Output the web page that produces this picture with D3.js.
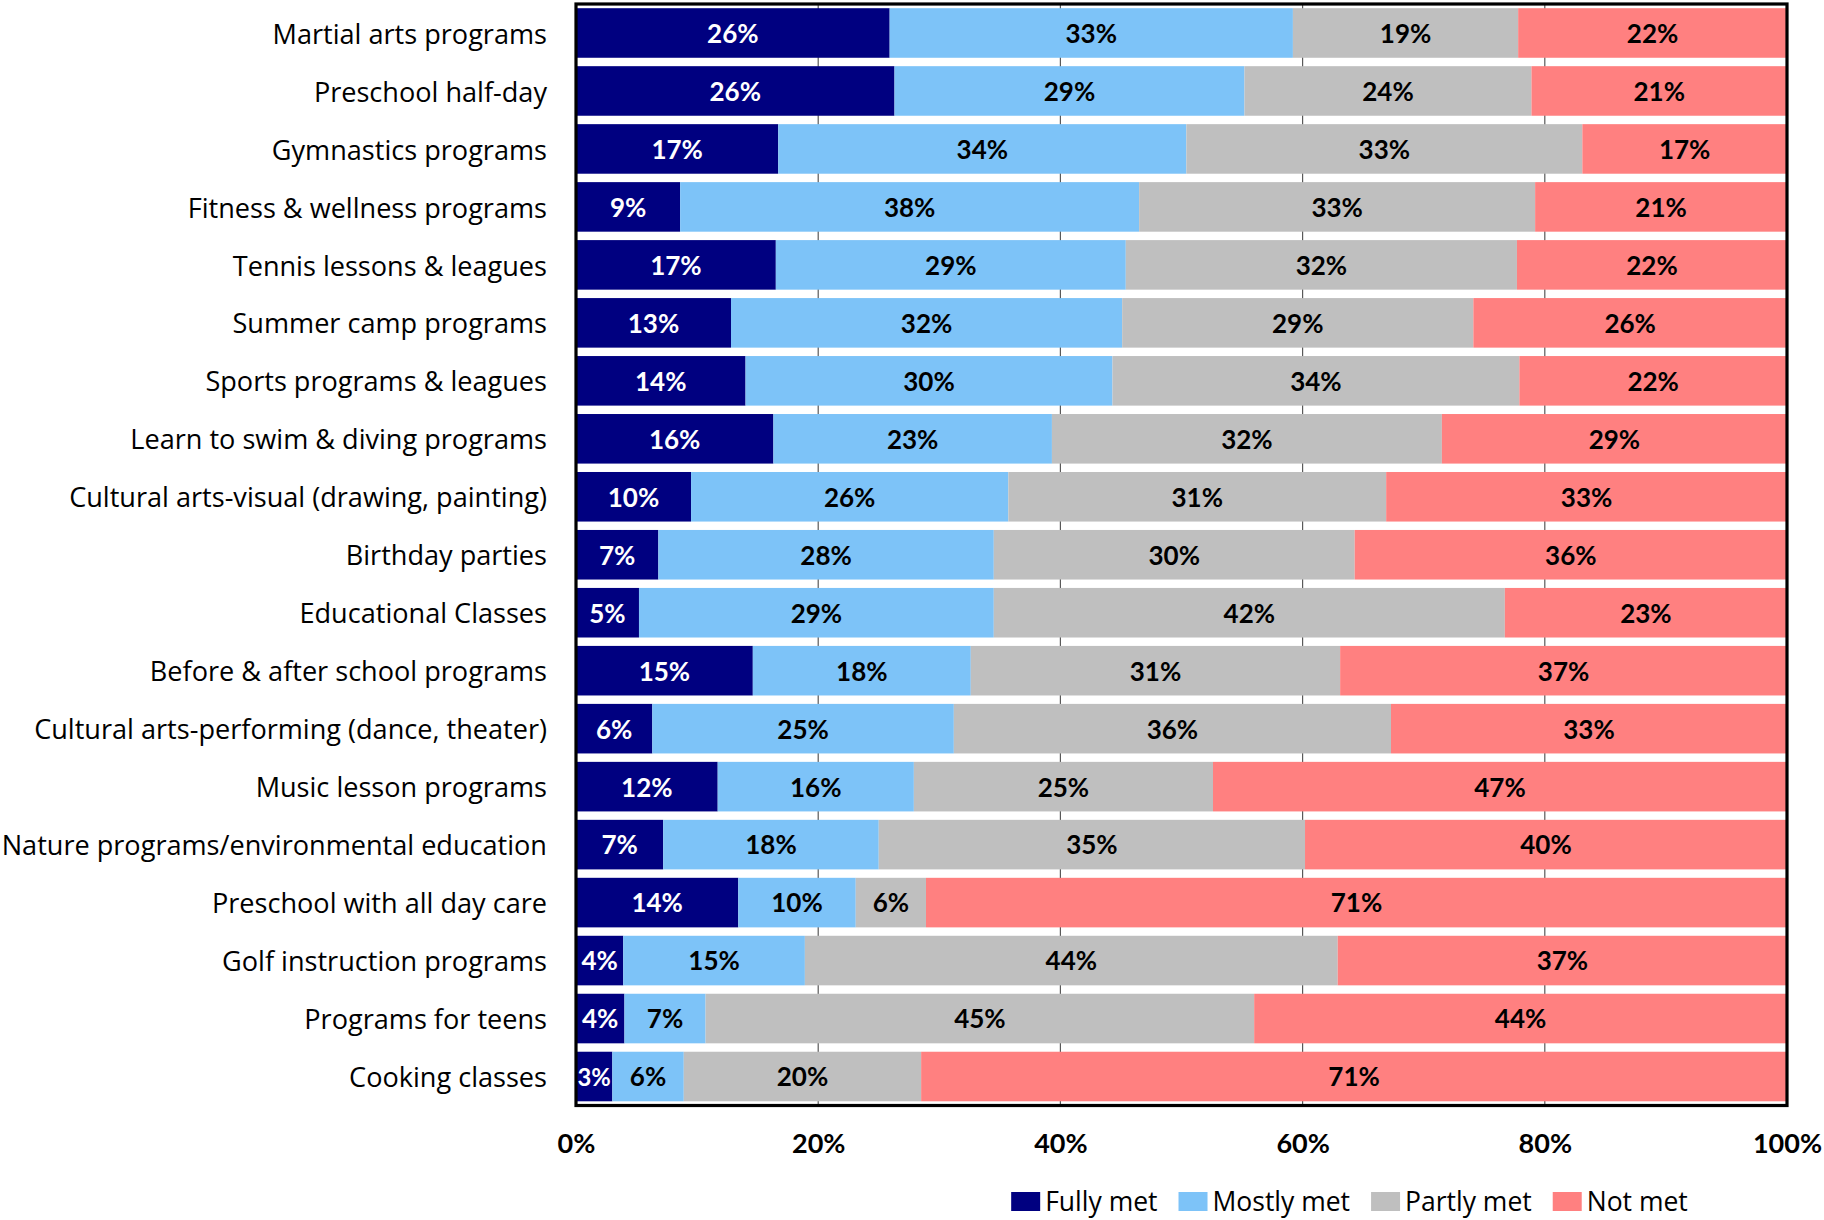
<!DOCTYPE html>
<html>
<head>
<meta charset="utf-8">
<script src="https://cdn.jsdelivr.net/npm/d3@7"></script>
<style>
  html, body { margin: 0; padding: 0; background: #fff; }
  svg { display: block; }
</style>
</head>
<body>
<svg id="chart" width="1824" height="1220"></svg>
<script>
const categories = [
  "Martial arts programs",
  "Preschool half-day",
  "Gymnastics programs",
  "Fitness & wellness programs",
  "Tennis lessons & leagues",
  "Summer camp programs",
  "Sports programs & leagues",
  "Learn to swim & diving programs",
  "Cultural arts-visual (drawing, painting)",
  "Birthday parties",
  "Educational Classes",
  "Before & after school programs",
  "Cultural arts-performing (dance, theater)",
  "Music lesson programs",
  "Nature programs/environmental education",
  "Preschool with all day care",
  "Golf instruction programs",
  "Programs for teens",
  "Cooking classes"
];
const seriesNames = ["Fully met", "Mostly met", "Partly met", "Not met"];
const fullyMet  = [25.9, 26.3, 16.7, 8.6, 16.5, 12.8, 14.0, 16.3, 9.5, 6.8, 5.2, 14.6, 6.3, 11.7, 7.2, 13.4, 3.9, 4.0, 3.0];
const mostlyMet = [33.3, 28.9, 33.7, 37.9, 28.9, 32.3, 30.3, 23.0, 26.2, 27.7, 29.3, 18.0, 24.9, 16.2, 17.8, 9.7, 15.0, 6.7, 5.9];
const partlyMet = [18.6, 23.7, 32.7, 32.7, 32.3, 29.0, 33.6, 32.2, 31.2, 29.8, 42.2, 30.5, 36.1, 24.7, 35.2, 5.8, 44.0, 45.3, 19.6];
const notMet    = [22.2, 21.1, 16.9, 20.8, 22.3, 25.9, 22.1, 28.5, 33.1, 35.7, 23.3, 36.9, 32.7, 47.4, 39.8, 71.1, 37.1, 44.0, 71.5];
const fullyLabels  = [26, 26, 17, 9, 17, 13, 14, 16, 10, 7, 5, 15, 6, 12, 7, 14, 4, 4, 3];
const mostlyLabels = [33, 29, 34, 38, 29, 32, 30, 23, 26, 28, 29, 18, 25, 16, 18, 10, 15, 7, 6];
const partlyLabels = [19, 24, 33, 33, 32, 29, 34, 32, 31, 30, 42, 31, 36, 25, 35, 6, 44, 45, 20];
const notLabels    = [22, 21, 17, 21, 22, 26, 22, 29, 33, 36, 23, 37, 33, 47, 40, 71, 37, 44, 71];
const xTicks = [0, 20, 40, 60, 80, 100];
const xTickLabels = ["0%", "20%", "40%", "60%", "80%", "100%"];

const colors = ["#000080", "#7DC3F8", "#BFBFBF", "#FF8080"];
const labelColors = ["#ffffff", "#000000", "#000000", "#000000"];
const FONT = "Lato, 'Open Sans', sans-serif";
const TEXTFONT = "'Open Sans', Lato, sans-serif";

const rows = categories.map((c, i) => ({
  cat: c,
  "Fully met": fullyMet[i], "Mostly met": mostlyMet[i], "Partly met": partlyMet[i], "Not met": notMet[i],
  labels: [fullyLabels[i], mostlyLabels[i], partlyLabels[i], notLabels[i]]
}));

const svg = d3.select("#chart");
const pLeft = 576, pRight = 1787, pTop = 4, pBottom = 1105.5;

const x = d3.scaleLinear().domain([0, 100]).range([pLeft, pRight]);
const y = d3.scaleBand().domain(categories).range([pTop, pBottom]).paddingInner(0.145).paddingOuter(0.0725);

// gridlines behind bars
svg.append("g").selectAll("line").data(xTicks.slice(1, -1)).join("line")
  .attr("x1", d => x(d)).attr("x2", d => x(d))
  .attr("y1", pTop).attr("y2", pBottom)
  .attr("stroke", "#595959").attr("stroke-width", 1.2);

const stack = d3.stack().keys(seriesNames);
const stacked = stack(rows);

const g = svg.append("g");
stacked.forEach((layer, si) => {
  g.append("g").selectAll("rect").data(layer).join("rect")
    .attr("x", d => x(d[0]))
    .attr("y", d => y(d.data.cat))
    .attr("width", d => x(d[1]) - x(d[0]))
    .attr("height", y.bandwidth())
    .attr("fill", colors[si]);
});

// segment labels
stacked.forEach((layer, si) => {
  const lg = g.append("g");
  layer.forEach(d => {
    const w = x(d[1]) - x(d[0]);
    const cx = (x(d[0]) + x(d[1])) / 2;
    const cy = y(d.data.cat) + y.bandwidth() / 2;
    let fs = 26;
    const t = lg.append("text")
      .attr("x", cx)
      .attr("text-anchor", "middle")
      .attr("font-family", FONT)
      .attr("font-weight", "bold")
      .attr("font-size", fs)
      .attr("fill", labelColors[si])
      .text(d.data.labels[si] + "%");
    const tw = t.node().getComputedTextLength();
    if (tw > w - 3) {
      fs = fs * (w - 3) / tw;
      t.attr("font-size", fs);
    }
    t.attr("y", cy + fs * 0.36 + 0.5);
  });
});

// frame
svg.append("rect")
  .attr("x", pLeft).attr("y", pTop)
  .attr("width", pRight - pLeft).attr("height", pBottom - pTop)
  .attr("fill", "none").attr("stroke", "#000").attr("stroke-width", 3.2);

// category labels
const catFs = 27.1;
const yAxis = d3.axisLeft(y).tickSize(0).tickPadding(29);
const ya = svg.append("g").attr("transform", `translate(${pLeft},0)`).call(yAxis);
ya.select(".domain").remove();
ya.selectAll("text")
  .attr("font-family", TEXTFONT)
  .attr("font-size", catFs)
  .attr("fill", "#000")
  .attr("dy", null)
  .attr("y", catFs * 0.355 + 1);

// x axis labels
const xAxis = d3.axisBottom(x).tickValues(xTicks).tickSize(0).tickPadding(0)
  .tickFormat((d, i) => xTickLabels[i]);
const xa = svg.append("g").attr("transform", `translate(0,${pBottom})`).call(xAxis);
xa.select(".domain").remove();
xa.selectAll("text")
  .attr("font-family", FONT)
  .attr("font-weight", "bold")
  .attr("font-size", 27)
  .attr("fill", "#000")
  .attr("dy", null)
  .attr("y", 1153 - pBottom);

// legend
const legend = svg.append("g");
const items = [];
seriesNames.forEach((name, i) => {
  const it = legend.append("g");
  it.append("rect").attr("x", 0).attr("y", 1192).attr("width", 29).attr("height", 19).attr("fill", colors[i]);
  const t = it.append("text").attr("x", 34).attr("y", 1211)
    .attr("font-family", TEXTFONT).attr("font-size", 26.5).attr("fill", "#000").text(name);
  items.push({ it, w: 34 + t.node().getComputedTextLength() });
});
const gap = 21;
const total = d3.sum(items, d => d.w) + gap * (items.length - 1);
let lx = (1006 + 1693) / 2 - total / 2;
items.forEach(d => { d.it.attr("transform", `translate(${lx},0)`); lx += d.w + gap; });
</script>
</body>
</html>
